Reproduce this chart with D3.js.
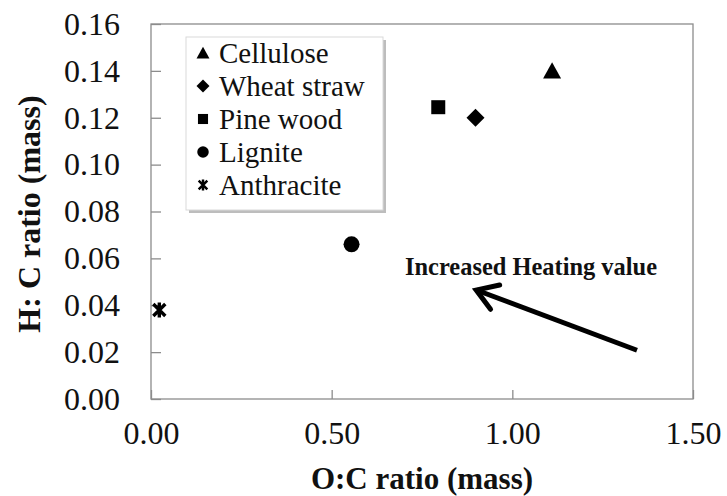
<!DOCTYPE html>
<html>
<head>
<meta charset="utf-8">
<script src="https://cdn.jsdelivr.net/npm/d3@7"></script>
<style>
  body { margin: 0; background: #fff; }
  svg { display: block; }
</style>
</head>
<body>
<div id="chart"></div>
<script>
// data
const materials = ["Cellulose", "Wheat straw", "Pine wood", "Lignite", "Anthracite"];
const ocRatio = [1.11, 0.898, 0.795, 0.555, 0.023];   // O:C (mass)
const hcRatio = [0.140, 0.120, 0.1245, 0.066, 0.038]; // H:C (mass)
const markerShapes = ["triangle", "diamond", "square", "circle", "star"];
const xTicks = [0, 0.5, 1.0, 1.5];
const yTicks = [0, 0.02, 0.04, 0.06, 0.08, 0.10, 0.12, 0.14, 0.16];
const annotation = "Increased Heating value";
// arrow drawn in data units: from tail to head
const arrowFrom = [1.345, 0.0208];
const arrowTo = [0.9, 0.0465];

const W = 727, H = 496;
const margin = {top: 24, right: 34, bottom: 97, left: 151};

const svg = d3.select("#chart").append("svg")
  .attr("width", W).attr("height", H);

const x = d3.scaleLinear().domain([0, 1.5]).range([margin.left, W - margin.right]);
const y = d3.scaleLinear().domain([0, 0.16]).range([H - margin.bottom, margin.top]);

const frameColor = "#8c8c8c";
const serif = "'Liberation Serif', 'Times New Roman', serif";

// plot frame
svg.append("rect")
  .attr("x", x(0)).attr("y", y(0.16))
  .attr("width", x(1.5) - x(0)).attr("height", y(0) - y(0.16))
  .attr("fill", "none").attr("stroke", frameColor).attr("stroke-width", 1.3);

// x axis, ticks point inward
const xAxis = svg.append("g")
  .attr("transform", "translate(0," + y(0) + ")")
  .call(d3.axisBottom(x).tickValues(xTicks).tickFormat(d3.format(".2f"))
    .tickSizeInner(-9).tickSizeOuter(0).tickPadding(20));
xAxis.select(".domain").remove();
xAxis.selectAll("line").attr("stroke", frameColor).attr("stroke-width", 1.3);
xAxis.selectAll("text").style("font-family", serif).style("font-size", "32px")
  .attr("fill", "#111").attr("dy", "0.78em");

const yAxis = svg.append("g")
  .attr("transform", "translate(" + x(0) + ",0)")
  .call(d3.axisLeft(y).tickValues(yTicks).tickFormat(d3.format(".2f"))
    .tickSizeInner(-10).tickSizeOuter(0).tickPadding(31));
yAxis.select(".domain").remove();
yAxis.selectAll("line").attr("stroke", frameColor).attr("stroke-width", 1.3);
yAxis.selectAll("text").style("font-family", serif).style("font-size", "32px")
  .attr("fill", "#111");

// axis titles
svg.append("text")
  .attr("x", (x(0) + x(1.5)) / 2).attr("y", 489)
  .attr("text-anchor", "middle")
  .style("font-family", serif).style("font-weight", "bold").style("font-size", "31px")
  .attr("fill", "#111")
  .text("O:C ratio (mass)");

svg.append("text")
  .attr("transform", "translate(40," + 214 + ") rotate(-90)")
  .attr("text-anchor", "middle")
  .style("font-family", serif).style("font-weight", "bold").style("font-size", "32px")
  .attr("fill", "#111")
  .text("H: C ratio (mass)");

// marker shapes, s = size in px
function markerPath(shape, s) {
  const h = s / 2;
  if (shape === "triangle") {
    return "M0," + (-h * 0.95) + "L" + h + "," + (h * 0.85) + "L" + (-h) + "," + (h * 0.85) + "Z";
  }
  if (shape === "diamond") {
    return "M0," + (-h) + "L" + h + ",0L0," + h + "L" + (-h) + ",0Z";
  }
  if (shape === "square") {
    return "M" + (-h) + "," + (-h) + "H" + h + "V" + h + "H" + (-h) + "Z";
  }
  if (shape === "circle") {
    return d3.symbol(d3.symbolCircle, Math.PI * h * h)();
  }
  // star: X with a vertical bar
  const d = h * 0.8;
  return "M" + (-d) + "," + (-d) + "L" + d + "," + d +
    "M" + d + "," + (-d) + "L" + (-d) + "," + d +
    "M0," + (-h) + "L0," + h;
}
const markerSize = {triangle: 18, diamond: 18, square: 14, circle: 16, star: 15};

function drawMarker(g, shape, scale) {
  const p = g.append("path").attr("d", markerPath(shape, markerSize[shape] * scale));
  if (shape === "star") {
    p.attr("fill", "none").attr("stroke", "#000").attr("stroke-width", 3.4 * scale);
  } else {
    p.attr("fill", "#000");
  }
}

// points
materials.forEach(function(m, i) {
  const g = svg.append("g")
    .attr("transform", "translate(" + x(ocRatio[i]) + "," + y(hcRatio[i]) + ")");
  drawMarker(g, markerShapes[i], 1);
});

// legend with shadow
const legend = svg.append("g").attr("transform", "translate(186,37)");
const legW = 197, legH = 173;
legend.append("rect")
  .attr("x", 3).attr("y", 3).attr("width", legW).attr("height", legH)
  .attr("fill", "#bdbdbd");
legend.append("rect")
  .attr("width", legW).attr("height", legH)
  .attr("fill", "#fff").attr("stroke", "#d9d9d9").attr("stroke-width", 1);

materials.forEach(function(m, i) {
  const row = legend.append("g").attr("transform", "translate(0," + (16 + i * 33) + ")");
  const mg = row.append("g").attr("transform", "translate(17,0)");
  drawMarker(mg, markerShapes[i], 0.72);
  row.append("text")
    .attr("x", 33).attr("y", 0).attr("dy", "0.33em")
    .style("font-family", serif).style("font-size", "29px")
    .attr("fill", "#111")
    .text(m);
});

// annotation
svg.append("text")
  .attr("x", 531).attr("y", 275)
  .attr("text-anchor", "middle")
  .style("font-family", serif).style("font-weight", "bold").style("font-size", "25px")
  .attr("fill", "#111")
  .attr("textLength", 252).attr("lengthAdjust", "spacingAndGlyphs")
  .text(annotation);

const x1 = x(arrowFrom[0]), y1 = y(arrowFrom[1]);
const x2 = x(arrowTo[0]), y2 = y(arrowTo[1]);
svg.append("line")
  .attr("x1", x1).attr("y1", y1).attr("x2", x2).attr("y2", y2)
  .attr("stroke", "#000").attr("stroke-width", 5);

const ang = Math.atan2(y1 - y2, x1 - x2);
const armLen = 24, spread = Math.PI / 5.5;
const arms = [ang - spread, ang + spread].map(function(a) {
  return [x2 + armLen * Math.cos(a), y2 + armLen * Math.sin(a)];
});
svg.append("path")
  .attr("d", "M" + arms[0][0] + "," + arms[0][1] + "L" + x2 + "," + y2 + "L" + arms[1][0] + "," + arms[1][1])
  .attr("fill", "none").attr("stroke", "#000").attr("stroke-width", 5)
  .attr("stroke-linecap", "round").attr("stroke-linejoin", "miter");
</script>
</body>
</html>
